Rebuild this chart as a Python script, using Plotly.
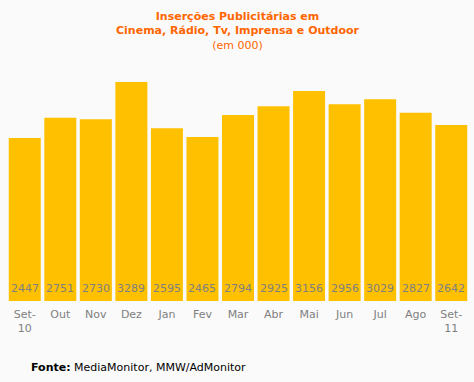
import plotly.graph_objects as go

categories = ["Set-<br>10", "Out", "Nov", "Dez", "Jan", "Fev", "Mar", "Abr", "Mai", "Jun", "Jul", "Ago", "Set-<br>11"]
values = [2447, 2751, 2730, 3289, 2595, 2465, 2794, 2925, 3156, 2956, 3029, 2827, 2642]

BAR = "#FFC000"
GRAY = "#808080"
ORANGE = "#FF6600"
FONT = "DejaVu Sans, Verdana, sans-serif"

fig = go.Figure(go.Bar(
    x=list(range(len(categories))), y=values, marker=dict(color=BAR, line=dict(width=0)),
    hoverinfo="skip",
))

for i, v in enumerate(values):
    fig.add_annotation(x=i, y=0, text=str(v), showarrow=False, yanchor="bottom", yshift=4,
                       font=dict(family=FONT, size=11, color=GRAY))

fig.add_annotation(xref="paper", yref="paper", x=0.5, y=1, yanchor="bottom", yshift=14,
                   text="<b>Inserções Publicitárias em<br>Cinema, Rádio, Tv, Imprensa e Outdoor</b><br>(em 000)",
                   showarrow=False, font=dict(family=FONT, size=11, color=ORANGE), align="center")

fig.add_annotation(xref="paper", yref="paper", x=0.048, y=0, xanchor="left", yanchor="top", yshift=-58,
                   text="<b>Fonte:</b> MediaMonitor, MMW/AdMonitor", showarrow=False,
                   font=dict(family=FONT, size=11, color="#000000"), align="left")

fig.update_layout(
    width=474, height=382,
    margin=dict(l=7, r=5, t=68, b=81),
    paper_bgcolor="#FAFAFA", plot_bgcolor="#FAFAFA",
    bargap=0.1, showlegend=False,
    xaxis=dict(tickmode="array", tickvals=list(range(len(categories))), ticktext=categories,
               showgrid=False, zeroline=False, showline=False, ticks="", ticklabelstandoff=5,
               tickfont=dict(family=FONT, size=11, color=GRAY), range=[-0.5, 12.5], fixedrange=True),
    yaxis=dict(range=[0, 3500], visible=False, fixedrange=True),
)

fig.write_html("out.html", config={"displayModeBar": False},
               post_script="document.body.style.margin='0';document.body.style.background='#FAFAFA';")
